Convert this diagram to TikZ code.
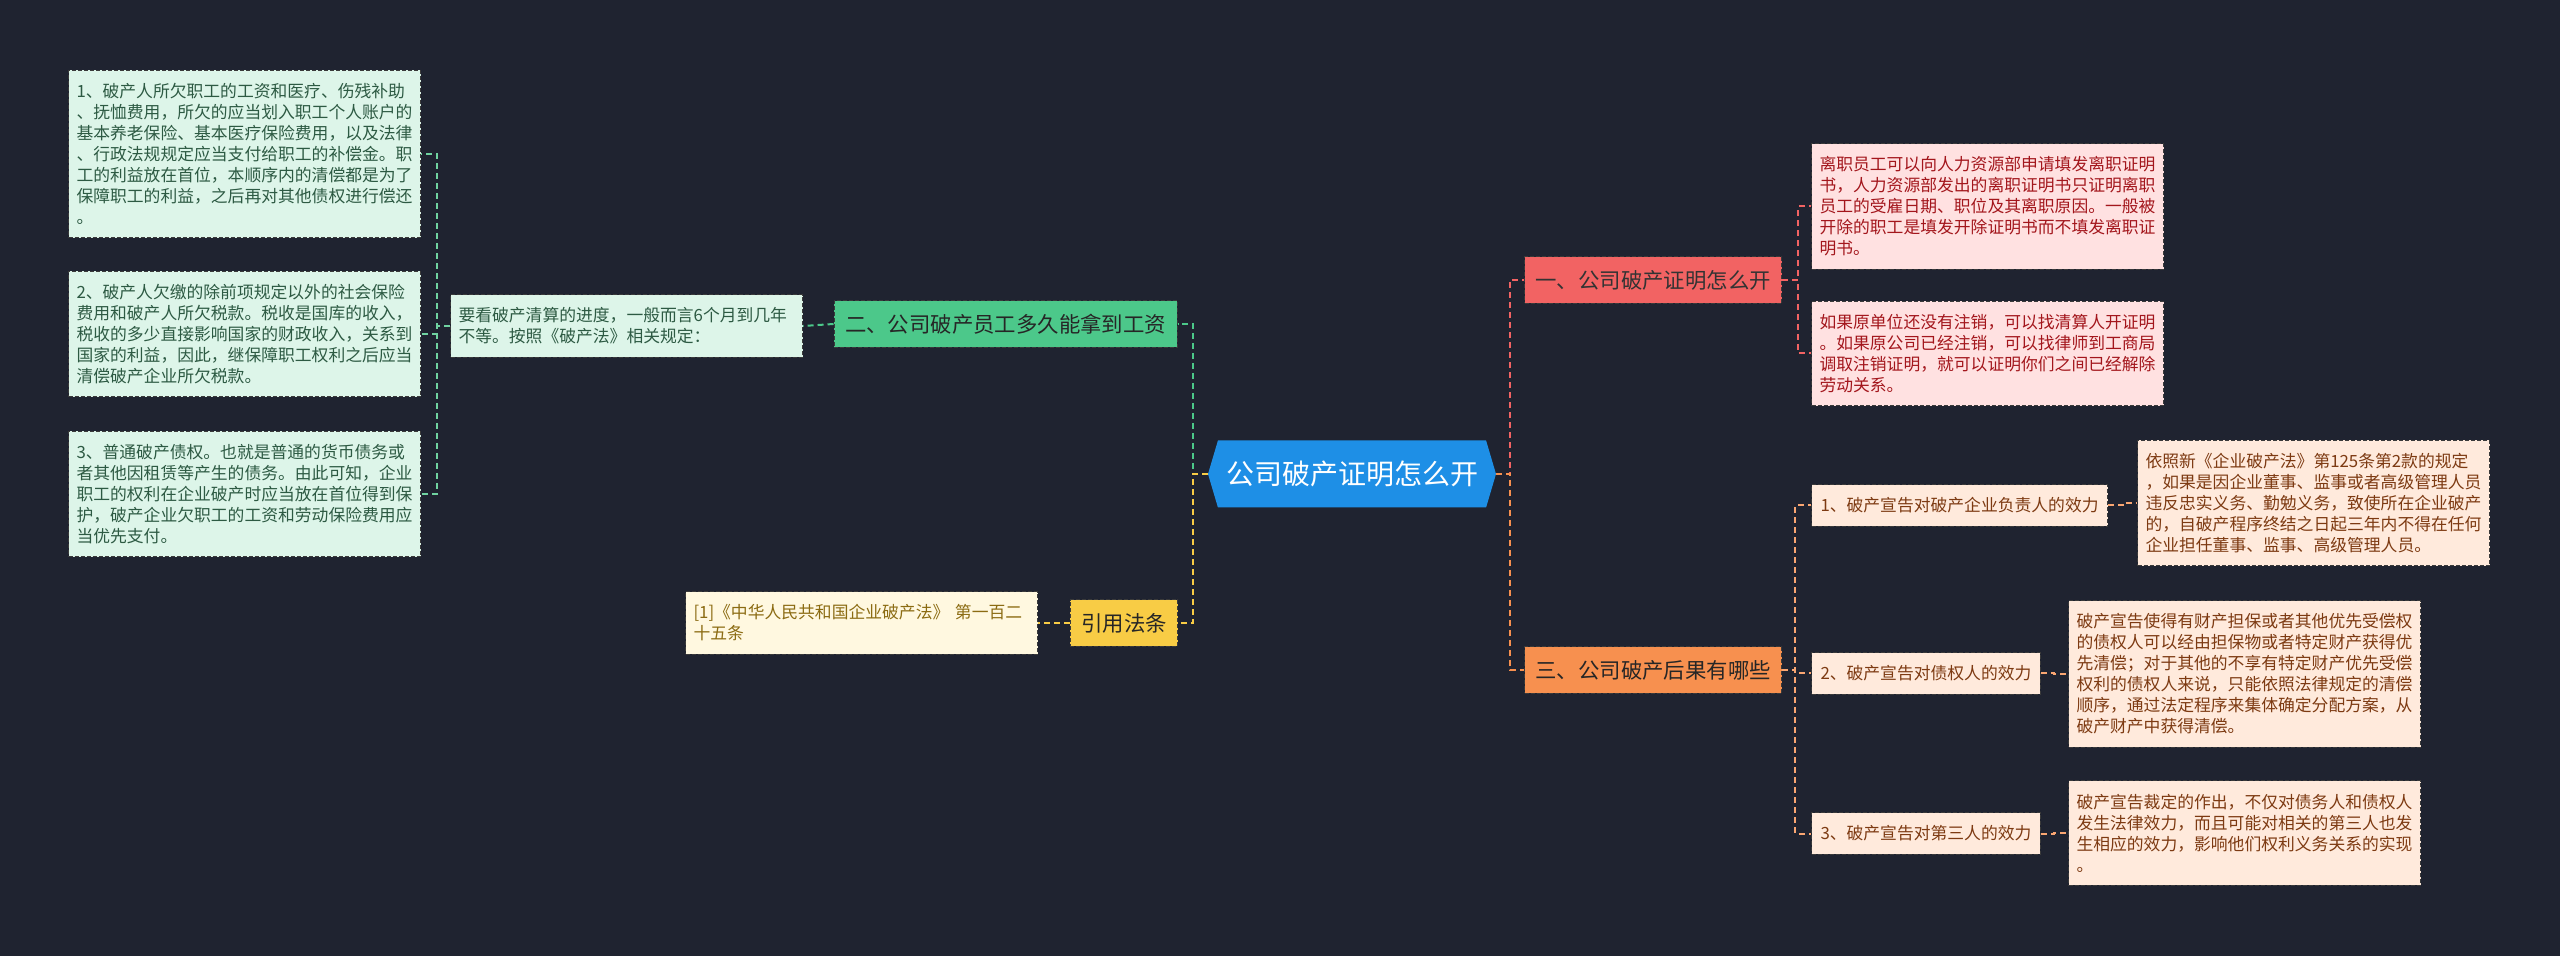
\documentclass[tikz,border=0pt]{standalone}
\usepackage{fontspec}
\setmainfont{Noto Sans CJK SC}
\usetikzlibrary{positioning,shapes.symbols}

\definecolor{bgcol}{HTML}{1F2330}
\definecolor{rootcol}{HTML}{1E8FE6}
\definecolor{grncol}{HTML}{4CC88A}
\definecolor{grnlite}{HTML}{DDF5E9}
\definecolor{grntext}{HTML}{2D5A43}
\definecolor{ylwcol}{HTML}{F8CC45}
\definecolor{ylwlite}{HTML}{FFF8E0}
\definecolor{ylwtext}{HTML}{8B6B12}
\definecolor{redcol}{HTML}{F26363}
\definecolor{redlite}{HTML}{FFE1E1}
\definecolor{redtext}{HTML}{A3161C}
\definecolor{orgcol}{HTML}{F7904F}
\definecolor{orglite}{HTML}{FFEADC}
\definecolor{orgtext}{HTML}{7D3A12}
\definecolor{edgecol}{HTML}{3A3A3A}

\begin{document}
\begin{tikzpicture}[
  x=0.5pt,y=-0.5pt,
  rootbox/.style={signal,signal to=east and west,signal pointer angle=147,
    fill=rootcol,text=white,minimum width=144pt,minimum height=33.5pt,
    font=\fontsize{14}{16}\selectfont},
  topic/.style={draw=edgecol,dash pattern=on 2pt off 1pt,line width=0.5pt,
    inner xsep=5.5pt,inner ysep=6.6pt,font=\fontsize{10.7}{12}\selectfont},
  sub/.style={draw=edgecol,dash pattern=on 2pt off 1pt,line width=0.5pt,
    inner xsep=4.5pt,inner ysep=6.5pt,font=\fontsize{8.4}{10.5}\selectfont},
  note/.style={sub,text width=168pt,align=left,inner xsep=4pt},
  link/.style={dash pattern=on 3pt off 2pt,line width=1pt},
]
\fill[bgcol] (0,0) rectangle (2560,956);
\useasboundingbox (0,0) rectangle (2560,956);

\node[rootbox] (root) at (1352,474) {公司破产证明怎么开};

% left: green branch
\node[topic,fill=grncol,text=black!85] (zgz) at (1005.5,324) {二、公司破产员工多久能拿到工资};
\node[note,fill=grnlite,text=grntext,anchor=east] (zgzt) at (803,326)
 {要看破产清算的进度，一般而言6个月到几年\\不等。按照《破产法》相关规定：};
\node[note,fill=grnlite,text=grntext,anchor=east] (qc1) at (421,154)
 {1、破产人所欠职工的工资和医疗、伤残补助\\、抚恤费用，所欠的应当划入职工个人账户的\\基本养老保险、基本医疗保险费用，以及法律\\、行政法规规定应当支付给职工的补偿金。职\\工的利益放在首位，本顺序内的清偿都是为了\\保障职工的利益，之后再对其他债权进行偿还\\。};
\node[note,fill=grnlite,text=grntext,anchor=east] (qc2) at (421,334)
 {2、破产人欠缴的除前项规定以外的社会保险\\费用和破产人所欠税款。税收是国库的收入，\\税收的多少直接影响国家的财政收入，关系到\\国家的利益，因此，继保障职工权利之后应当\\清偿破产企业所欠税款。};
\node[note,fill=grnlite,text=grntext,anchor=east] (qc3) at (421,494)
 {3、普通破产债权。也就是普通的货币债务或\\者其他因租赁等产生的债务。由此可知，企业\\职工的权利在企业破产时应当放在首位得到保\\护，破产企业欠职工的工资和劳动保险费用应\\当优先支付。};

% left: yellow branch
\node[topic,fill=ylwcol,text=black!85] (yyfl) at (1124,623) {引用法条};
\node[note,fill=ylwlite,text=ylwtext,anchor=east] (yyflt) at (1038,623)
 {[1]《中华人民共和国企业破产法》 第一百二\\十五条};

% right: red branch
\node[topic,fill=redcol,text=black!80,anchor=west] (zmk) at (1524,280) {一、公司破产证明怎么开};
\node[note,fill=redlite,text=redtext,anchor=west] (zmk1) at (1811,206.5)
 {离职员工可以向人力资源部申请填发离职证明\\书，人力资源部发出的离职证明书只证明离职\\员工的受雇日期、职位及其离职原因。一般被\\开除的职工是填发开除证明书而不填发离职证\\明书。};
\node[note,fill=redlite,text=redtext,anchor=west] (zmk2) at (1811,353.5)
 {如果原单位还没有注销，可以找清算人开证明\\。如果原公司已经注销，可以找律师到工商局\\调取注销证明，就可以证明你们之间已经解除\\劳动关系。};

% right: orange branch
\node[topic,fill=orgcol,text=black!85,anchor=west] (hg) at (1524,670) {三、公司破产后果有哪些};
\node[sub,fill=orglite,text=orgtext,anchor=west] (hg1) at (1811,505.5) {1、破产宣告对破产企业负责人的效力};
\node[sub,fill=orglite,text=orgtext,anchor=west] (hg2) at (1811,673.5) {2、破产宣告对债权人的效力};
\node[sub,fill=orglite,text=orgtext,anchor=west] (hg3) at (1811,833.5) {3、破产宣告对第三人的效力};
\node[note,fill=orglite,text=orgtext,anchor=west] (hg1t) at (2137,503)
 {依照新《企业破产法》第125条第2款的规定\\，如果是因企业董事、监事或者高级管理人员\\违反忠实义务、勤勉义务，致使所在企业破产\\的，自破产程序终结之日起三年内不得在任何\\企业担任董事、监事、高级管理人员。};
\node[note,fill=orglite,text=orgtext,anchor=west] (hg2t) at (2068,674)
 {破产宣告使得有财产担保或者其他优先受偿权\\的债权人可以经由担保物或者特定财产获得优\\先清偿；对于其他的不享有特定财产优先受偿\\权利的债权人来说，只能依照法律规定的清偿\\顺序，通过法定程序来集体确定分配方案，从\\破产财产中获得清偿。};
\node[note,fill=orglite,text=orgtext,anchor=west] (hg3t) at (2068,833)
 {破产宣告裁定的作出，不仅对债务人和债权人\\发生法律效力，而且可能对相关的第三人也发\\生相应的效力，影响他们权利义务关系的实现\\。};

% connectors
\draw[link,grncol] (root.west) -- ++(-15,0) |- (zgz.east);
\draw[link,ylwcol] (root.west) -- ++(-15,0) |- (yyfl.east);
\draw[link,grncol] (zgz.west) -- (zgzt.east);
\foreach \q in {qc1,qc2,qc3}
  \draw[link,grncol!80] (zgzt.west) -- ++(-13,0) |- (\q.east);
\draw[link,ylwcol] (yyfl.west) -- (yyflt.east);

\draw[link,redcol] (root.east) -- ++(14,0) |- (zmk.west);
\draw[link,orgcol] (root.east) -- ++(14,0) |- (hg.west);
\foreach \q in {zmk1,zmk2}
  \draw[link,redcol] (zmk.east) -- ++(16,0) |- (\q.west);
\foreach \q in {hg1,hg2,hg3}
  \draw[link,orgcol!80] (hg.east) -- ++(13,0) |- (\q.west);
\draw[link,orgcol!80] (hg1.east) -- ++(15,0) |- (hg1t.west);
\draw[link,orgcol!80] (hg2.east) -- ++(13,0) |- (hg2t.west);
\draw[link,orgcol!80] (hg3.east) -- ++(13,0) |- (hg3t.west);
\end{tikzpicture}
\end{document}
